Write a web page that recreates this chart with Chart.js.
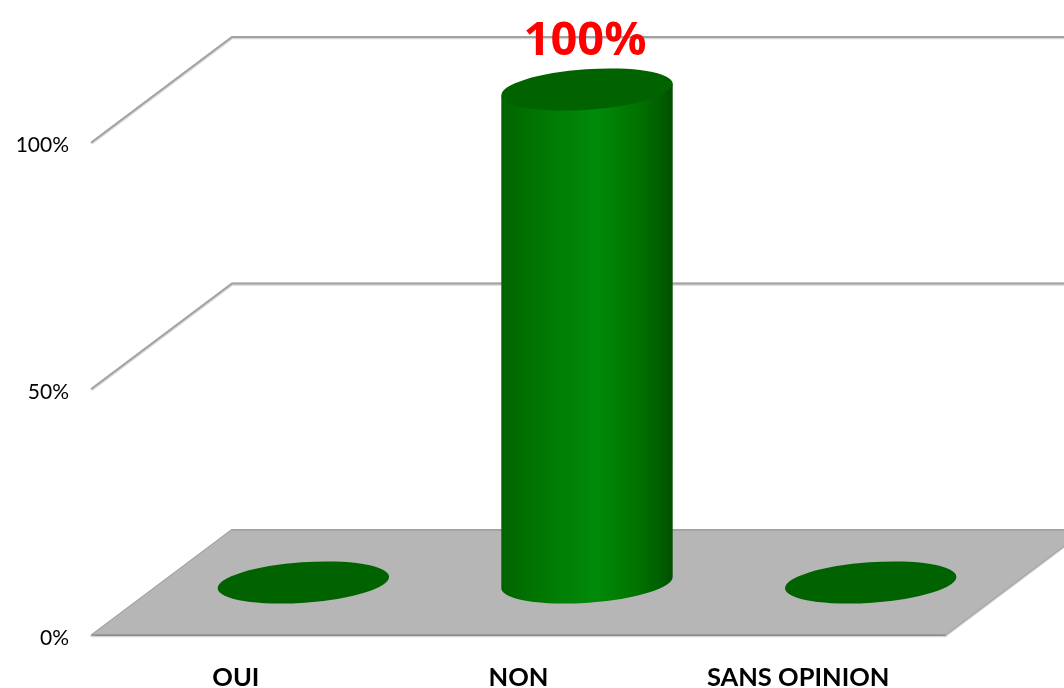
<!DOCTYPE html>
<html><head><meta charset="utf-8">
<style>html,body{margin:0;padding:0;background:#fff}canvas{display:block}</style>
<script src="https://cdn.jsdelivr.net/npm/chart.js@4"></script>
</head><body>
<div style="width:1064px;height:688px"><canvas id="c" width="1064" height="688"></canvas></div>
<script>
const categories = ['OUI', 'NON', 'SANS OPINION'];
const values = [0, 100, 0];
const tickValues = [0, 50, 100];

const DEPTH_X = 140, DEPTH_Y = 105, FLOOR_EXTRA = 2;

function softLine(ctx, pts, dark) {
  ctx.beginPath();
  pts.forEach((p, i) => i ? ctx.lineTo(p[0], p[1] + 0.6) : ctx.moveTo(p[0], p[1] + 0.6));
  ctx.strokeStyle = '#d6d6d6';
  ctx.lineWidth = 3.2;
  ctx.stroke();
  ctx.beginPath();
  pts.forEach((p, i) => i ? ctx.lineTo(p[0], p[1]) : ctx.moveTo(p[0], p[1]));
  ctx.strokeStyle = dark;
  ctx.lineWidth = 1.8;
  ctx.stroke();
}

const stage3d = {
  id: 'stage3d',
  beforeDatasetsDraw(chart) {
    const { ctx, chartArea: a, scales: { y } } = chart;
    const y0 = y.getPixelForValue(0);
    const right = a.right + FLOOR_EXTRA;
    ctx.save();
    ctx.lineCap = 'round';
    ctx.lineJoin = 'round';
    tickValues.filter(v => v > 0).forEach(v => {
      const py = y.getPixelForValue(v);
      softLine(ctx, [[a.left, py], [a.left + DEPTH_X, py - DEPTH_Y], [right + DEPTH_X, py - DEPTH_Y]], '#a2a2a2');
    });
    softLine(ctx, [[a.left, y0], [right, y0]], '#8e8e8e');
    softLine(ctx, [[right, y0], [right + DEPTH_X, y0 - DEPTH_Y], [a.left + DEPTH_X, y0 - DEPTH_Y], [a.left, y0]], '#a0a0a0');
    ctx.beginPath();
    ctx.moveTo(a.left, y0);
    ctx.lineTo(right, y0);
    ctx.lineTo(right + DEPTH_X, y0 - DEPTH_Y);
    ctx.lineTo(a.left + DEPTH_X, y0 - DEPTH_Y);
    ctx.closePath();
    ctx.fillStyle = '#b6b6b6';
    ctx.fill();
    ctx.beginPath();
    ctx.moveTo(a.left + 1, y0);
    ctx.lineTo(right, y0);
    ctx.strokeStyle = '#8e8e8e';
    ctx.lineWidth = 1.6;
    ctx.stroke();
    ctx.beginPath();
    ctx.moveTo(a.left + DEPTH_X, y0 - DEPTH_Y);
    ctx.lineTo(right + DEPTH_X, y0 - DEPTH_Y);
    ctx.strokeStyle = '#a0a0a0';
    ctx.lineWidth = 1.6;
    ctx.stroke();
    ctx.restore();
  },
  afterDatasetsDraw(chart) {
    const { ctx } = chart;
    const meta = chart.getDatasetMeta(0);
    const TILT = -4 * Math.PI / 180;
    meta.data.forEach((bar, i) => {
      const p = bar.getProps(['x', 'y', 'base', 'width'], true);
      const cx = p.x + DEPTH_X / 2 - 0.5, top = p.y - DEPTH_Y / 2, bottom = p.base - DEPTH_Y / 2;
      const rx = p.width / 2 + 0.8, ry = 20.3;
      const hw = rx - 0.2, dy = 6;
      ctx.save();
      if (top < bottom - 0.5) {
        const g = ctx.createLinearGradient(cx - hw, 0, cx + hw, 0);
        g.addColorStop(0, '#006200');
        g.addColorStop(0.12, '#006f00');
        g.addColorStop(0.35, '#007f05');
        g.addColorStop(0.55, '#008a0a');
        g.addColorStop(0.78, '#007400');
        g.addColorStop(0.93, '#005f00');
        g.addColorStop(1, '#004f00');
        ctx.fillStyle = g;
        ctx.beginPath();
        ctx.moveTo(cx - hw, top + dy);
        ctx.lineTo(cx - hw, bottom + dy);
        ctx.ellipse(cx, bottom, rx, ry, TILT, Math.PI, 0, true);
        ctx.lineTo(cx + hw, top - dy);
        ctx.closePath();
        ctx.fill();
      }
      ctx.fillStyle = '#006300';
      ctx.beginPath();
      ctx.ellipse(cx, top, rx, ry, TILT, 0, Math.PI * 2);
      ctx.fill();
      ctx.restore();
      if (values[i] > 0) {
        ctx.save();
        ctx.font = 'bold 47px "Open Sans"';
        ctx.fillStyle = '#ff0000';
        ctx.textAlign = 'center';
        ctx.textBaseline = 'alphabetic';
        ctx.fillText(values[i] + '%', cx - 2, top - 35);
        ctx.restore();
      }
    });
  }
};

// Nudges Chart.js' own tick labels by a few pixels (x, y per label index).
function nudgeLabels(scale, dx, dy) {
  const orig = scale._computeLabelItems;
  scale._computeLabelItems = function (ca) {
    const items = orig.call(this, ca);
    items.forEach((it, i) => {
      it.options.translation = [it.options.translation[0] + dx[i % dx.length], it.options.translation[1] + dy];
    });
    return items;
  };
}

new Chart(document.getElementById('c'), {
  type: 'bar',
  data: {
    labels: categories,
    datasets: [{
      data: values,
      backgroundColor: 'rgba(0,0,0,0)',
      borderWidth: 0,
      categoryPercentage: 1,
      barPercentage: 0.6
    }]
  },
  options: {
    responsive: false,
    animation: false,
    events: [],
    layout: { padding: { top: 142, right: 121, left: 0, bottom: 0 } },
    plugins: { legend: { display: false }, tooltip: { enabled: false }, title: { display: false } },
    scales: {
      x: {
        grid: { display: false, drawTicks: false },
        border: { display: false },
        afterFit(s) { s.height = 53; if (!s._n) { s._n = 1; nudgeLabels(s, [2, 1, -3], 0); } },
        ticks: {
          font: { family: 'Lato', weight: 'bold', size: 25.5 },
          color: '#000000',
          padding: 27,
          maxRotation: 0
        }
      },
      y: {
        min: 0, max: 100,
        grid: { display: false, drawTicks: false },
        border: { display: false },
        afterFit(s) { s.width = 92; if (!s._n) { s._n = 1; nudgeLabels(s, [0], 3.5); } },
        afterBuildTicks(s) { s.ticks = tickValues.map(v => ({ value: v })); },
        ticks: {
          font: { family: 'Lato', size: 21 },
          color: '#000000',
          padding: 23,
          callback: v => v + '%'
        }
      }
    }
  },
  plugins: [stage3d]
});
</script>
</body></html>
